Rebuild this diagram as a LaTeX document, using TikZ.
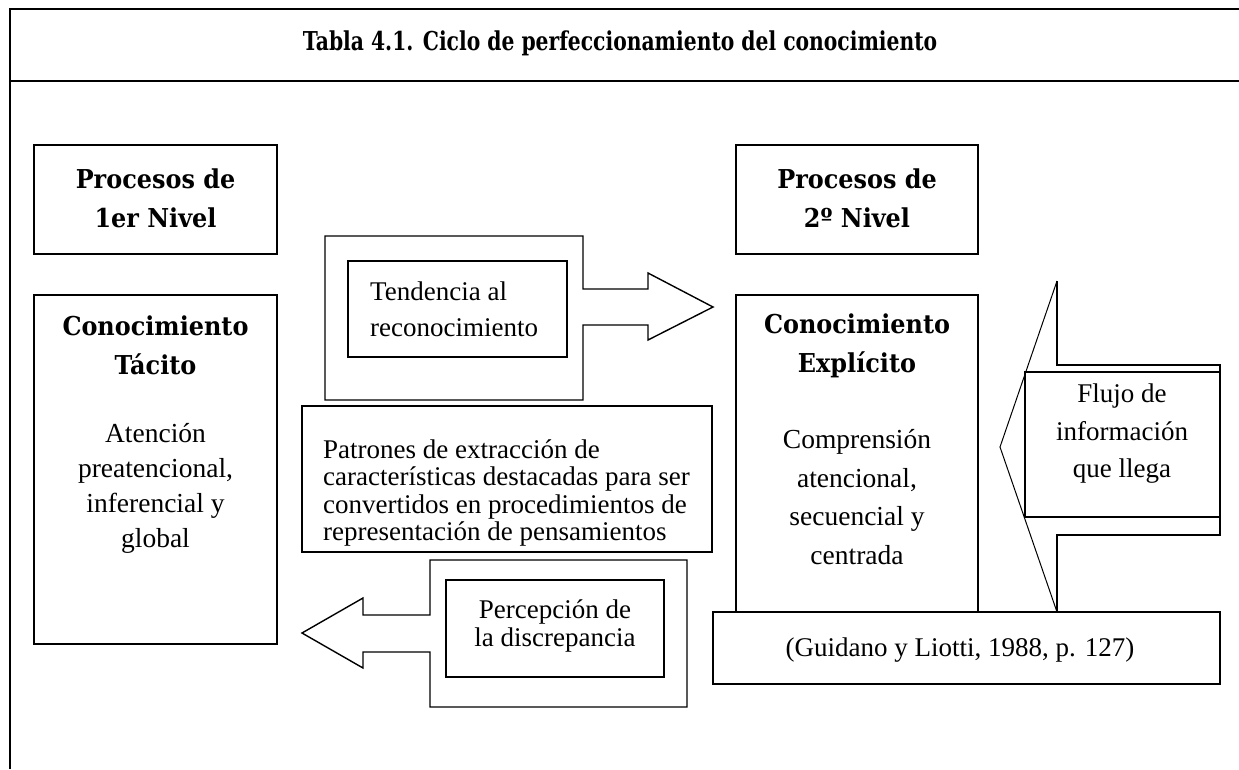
\documentclass[tikz,border=0pt]{standalone}
\usepackage{fontspec}
\setmainfont{Liberation Serif}
\newfontfamily\hdfont{DejaVu Serif}[FakeStretch=0.92]
\newfontfamily\ttlfont{DejaVu Serif}[FakeStretch=0.78]
\begin{document}
\begin{tikzpicture}[x=1pt,y=-1pt,
  frameline/.style={line width=1.8pt},
  boxline/.style={draw, line width=1.4pt},
  body/.style={font=\fontsize{27}{36}\selectfont, align=center, inner sep=0pt},
  head/.style={font=\hdfont\bfseries\fontsize{26}{39}\selectfont, align=center, inner sep=0pt},
  ttl/.style={font=\ttlfont\bfseries\fontsize{26}{30}\selectfont, inner sep=0pt}]
\useasboundingbox (0,0) rectangle (1239,769);
\fill[white] (0,0) rectangle (1239,769);
% frame
\draw[frameline] (10,769) -- (10,9) -- (1239,9);
\draw[frameline] (10,81) -- (1239,81);
\node[ttl] (title) at (620,43) {Tabla 4.1. Ciclo de perfeccionamiento del conocimiento};
% level boxes
\draw[boxline] (34,145) rectangle (277,254);
\node[head] (p1) at (155.5,198) {Procesos de\\1er Nivel};
\draw[boxline] (736,145) rectangle (978,254);
\node[head] (p2) at (857,198) {Procesos de\\2º Nivel};
% tacito
\draw[boxline] (34,295) rectangle (277,644);
\node[head] (t1) at (155.5,345) {Conocimiento\\Tácito};
\node[body, font=\fontsize{27.5}{35}\selectfont] (t2) at (155.5,488) {Atención\\preatencional,\\inferencial y\\global};
% explicito
\draw[boxline] (736,295) rectangle (978,612);
\node[head] (e1) at (857,346) {Conocimiento\\Explícito};
\node[body, font=\fontsize{27.5}{38.5}\selectfont] (e2) at (857,497) {Comprensión\\atencional,\\secuencial y\\centrada};
% right arrow (tendencia)
\draw[line width=1.4pt, line join=miter] (325,236) -- (583,236) -- (583,289) -- (648,289) -- (648,273) -- (713,307) -- (648,340) -- (648,325) -- (583,325) -- (583,400) -- (325,400) -- cycle;
\draw[boxline] (348,261) rectangle (567,357);
\node[body, align=left, anchor=west] (tend) at (370,309) {Tendencia al\\reconocimiento};
% patrones
\draw[boxline] (302,406) rectangle (712,552);
\node[body, align=left, anchor=west, font=\fontsize{27}{27.5}\selectfont] (patr) at (323,493) {Patrones de extracción de\\características destacadas para ser\\convertidos en procedimientos de\\representación de pensamientos};
% left arrow (percepcion)
\draw[line width=1.4pt, line join=miter] (430,560) -- (687,560) -- (687,707) -- (430,707) -- (430,652) -- (363,652) -- (363,668) -- (302,633) -- (363,598) -- (363,615) -- (430,615) -- cycle;
\draw[boxline] (446,580) rectangle (664,677);
\node[body, font=\fontsize{27}{28}\selectfont] (perc) at (555,626) {Percepción de\\la discrepancia};
% flujo arrow
\draw[line width=1.4pt, line join=miter] (1057,281) -- (1057,365) -- (1220,365) -- (1220,535) -- (1057,535) -- (1057,612);
\draw[line width=1pt] (1057,281) -- (1000,447) -- (1057,612);
\draw[boxline] (1025,372) rectangle (1220,517);
\node[body, font=\fontsize{27}{37.5}\selectfont] (flujo) at (1122,434) {Flujo de\\información\\que llega};
% citation
\draw[boxline] (713,612) rectangle (1220,684);
\node[body, font=\fontsize{27}{30}\selectfont] (cite) at (960,650) {(Guidano y Liotti, 1988, p. 127)};
\end{tikzpicture}
\end{document}
